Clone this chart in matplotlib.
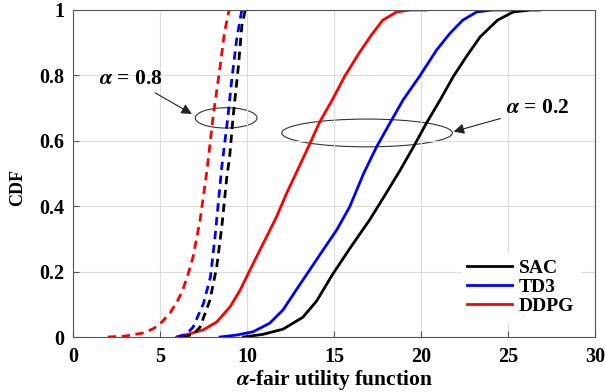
import matplotlib
matplotlib.use("Agg")
import matplotlib.pyplot as plt
from matplotlib.patches import Ellipse

plt.rcParams.update({
    "font.family": "Liberation Serif",
    "font.weight": "bold",
    "axes.labelweight": "bold",
    "mathtext.fontset": "stix",
    "font.size": 14,
})

# alpha = 0.2 (solid)
sac_x = [9.8, 10.9, 12.07, 13.2, 14.0, 14.9, 15.9, 17.07, 18.0, 18.8, 19.55, 20.3, 21.1,
         21.85, 22.6, 23.4, 24.4, 25.3, 26.3, 26.8]
sac_y = [0.0, 0.008, 0.024, 0.06, 0.11, 0.19, 0.27, 0.36, 0.44, 0.51, 0.58, 0.653, 0.725,
         0.796, 0.857, 0.918, 0.969, 0.994, 1.0, 1.0]
td3_x = [8.45, 9.4, 10.35, 11.3, 12.07, 12.83, 13.6, 14.37, 15.15, 15.9, 16.7, 17.45, 18.2,
         18.97, 19.9, 20.9, 21.67, 22.4, 23.2, 24.1, 25.3]
td3_y = [0.0, 0.006, 0.016, 0.042, 0.083, 0.144, 0.205, 0.266, 0.327, 0.398, 0.5, 0.582, 0.653,
         0.725, 0.796, 0.878, 0.929, 0.969, 0.994, 1.0, 1.0]
ddpg_x = [5.96, 6.72, 7.49, 8.26, 9.02, 9.6, 10.17, 10.94, 11.7, 12.28, 12.9, 13.6, 14.2,
          14.9, 15.6, 16.4, 17.1, 17.8, 18.6, 19.4, 20.3]
ddpg_y = [0.0, 0.01, 0.022, 0.046, 0.092, 0.143, 0.205, 0.287, 0.368, 0.44, 0.51, 0.59, 0.66,
          0.725, 0.796, 0.865, 0.92, 0.969, 0.994, 1.0, 1.0]

# alpha = 0.8 (dashed)
sac8_x = [6.3, 6.9, 7.3, 7.87, 8.26, 8.55, 8.84, 9.0, 9.2, 9.5, 9.7, 9.9]
sac8_y = [0.0, 0.008, 0.03, 0.113, 0.215, 0.337, 0.49, 0.55, 0.673, 0.826, 0.95, 1.0]
td38_x = [5.96, 6.5, 6.9, 7.5, 7.9, 8.16, 8.35, 8.55, 8.9, 9.1, 9.4, 9.7]
td38_y = [0.0, 0.008, 0.03, 0.103, 0.184, 0.306, 0.41, 0.52, 0.673, 0.776, 0.908, 1.0]
ddpg8_x = [2.0, 3.0, 4.0, 4.6, 5.0, 5.57, 6.0, 6.3, 6.6, 6.9, 7.3, 7.7, 8.05, 8.45, 8.7, 8.97]
ddpg8_y = [0.0, 0.003, 0.012, 0.025, 0.04, 0.073, 0.11, 0.143, 0.19, 0.245, 0.357, 0.51,
           0.673, 0.826, 0.93, 1.0]

fig = plt.figure(figsize=(6.05, 3.92), dpi=100)
ax = fig.add_axes([0.1207, 0.1403, 0.8628, 0.8342])

lw = 2.0
dash = (0, (3, 2))
ax.plot(sac_x, sac_y, color="black", lw=lw, label="SAC")
ax.plot(td3_x, td3_y, color="blue", lw=lw, label="TD3")
ax.plot(ddpg_x, ddpg_y, color="red", lw=lw, label="DDPG")
ax.plot(sac8_x, sac8_y, color="black", lw=lw, ls=dash)
ax.plot(td38_x, td38_y, color="blue", lw=lw, ls=dash)
ax.plot(ddpg8_x, ddpg8_y, color="red", lw=lw, ls=dash)

ax.add_patch(Ellipse((8.8, 0.67), 3.55, 0.062, fill=False, lw=0.8, color="#333333"))
ax.add_patch(Ellipse((16.9, 0.624), 9.8, 0.085, fill=False, lw=0.8, color="#333333"))

ax.annotate(r"$\alpha$ = 0.8", xy=(6.9, 0.68), xytext=(3.3, 0.79), ha="center", va="center",
            fontsize=15.5, arrowprops=dict(arrowstyle="-|>", color="#222222", lw=0.8,
                                           shrinkA=2, shrinkB=1))
ax.annotate(r"$\alpha$ = 0.2", xy=(21.8, 0.627), xytext=(26.7, 0.70), ha="center", va="center",
            fontsize=15.5, arrowprops=dict(arrowstyle="-|>", color="#222222", lw=0.8,
                                           shrinkA=2, shrinkB=1))

ax.set_xlim(0, 30)
ax.set_ylim(0, 1)
ax.set_xticks([0, 5, 10, 15, 20, 25, 30])
ax.set_yticks([0, 0.2, 0.4, 0.6, 0.8, 1])
ax.set_yticklabels(["0", "0.2", "0.4", "0.6", "0.8", "1"])
ax.grid(True, color="#dcdcdc", lw=0.8)
ax.tick_params(direction="in", length=4, color="#555555", labelsize=14.5)
ax.tick_params(axis="y", pad=6)
ax.tick_params(axis="x", pad=7)
for s in ax.spines.values():
    s.set_color("#555555")
    s.set_linewidth(0.8)
ax.set_xlabel(r"$\alpha$-fair utility function", fontsize=15.5)
ax.xaxis.set_label_coords(0.5, -0.095)
ax.set_ylabel("CDF", fontsize=13)
ax.yaxis.set_label_coords(-0.09, 0.456)

ax.legend(loc="lower right", bbox_to_anchor=(0.99, 0.02), frameon=True, fancybox=False,
          edgecolor="white", framealpha=1, fontsize=14, handlelength=2.3,
          labelspacing=0.08, borderpad=0.3, handletextpad=0.35)

fig.savefig("out.png", dpi=100)
